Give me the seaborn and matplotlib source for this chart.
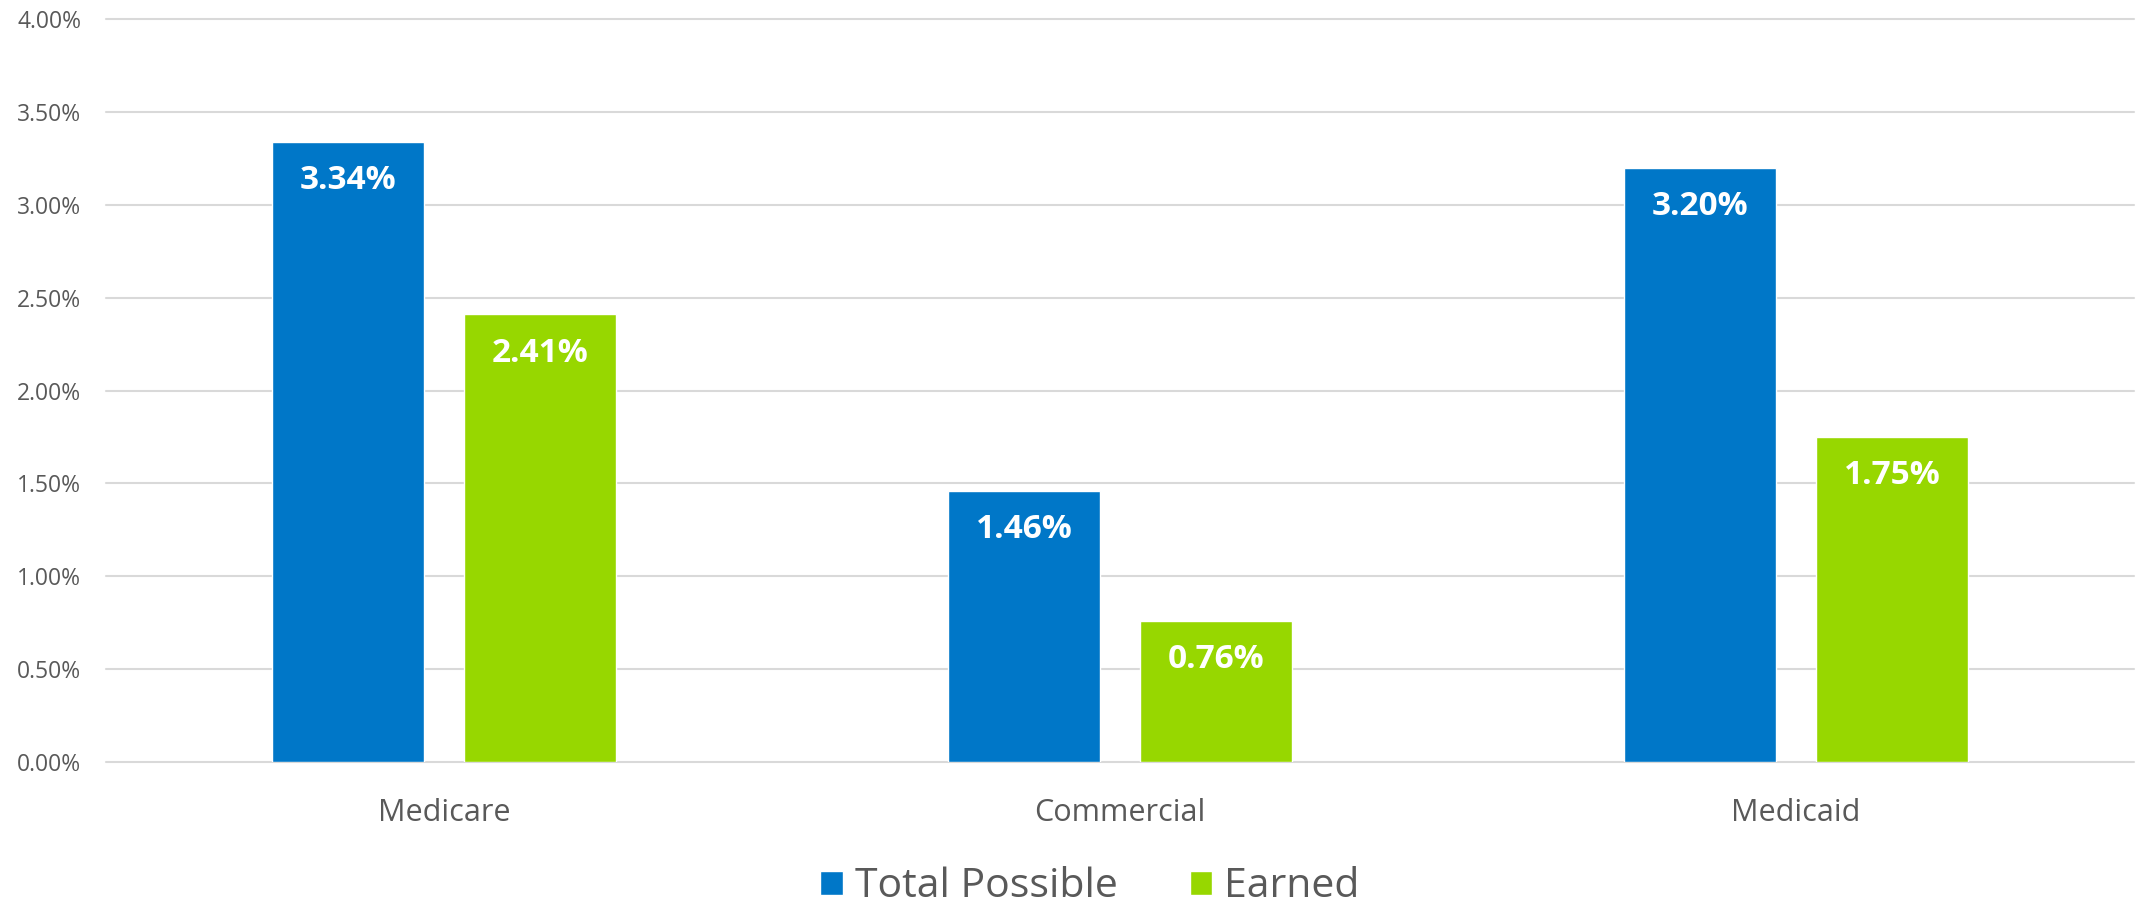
import matplotlib
matplotlib.use("Agg")
import matplotlib.pyplot as plt
import seaborn as sns
import pandas as pd

# Chart data
categories = ["Medicare", "Commercial", "Medicaid"]
total_possible = [3.34, 1.46, 3.20]
earned = [2.41, 0.76, 1.75]
series_names = ["Total Possible", "Earned"]
y_ticks = [0.0, 0.5, 1.0, 1.5, 2.0, 2.5, 3.0, 3.5, 4.0]

BLUE = "#0077C8"
GREEN = "#97D700"
TEXT = "#595959"
GRID = "#D9D9D9"

sns.set_theme(style="white")
plt.rcParams["font.family"] = ["Open Sans", "DejaVu Sans"]

df = pd.DataFrame({
    "category": categories * 2,
    "series": [series_names[0]] * len(categories) + [series_names[1]] * len(categories),
    "value": total_possible + earned,
})

fig = plt.figure(figsize=(21.36, 9.08), dpi=100)
ax = fig.add_axes([106 / 2136, 146 / 908, 2028 / 2136, 743 / 908])

sns.barplot(
    data=df, x="category", y="value", hue="series",
    order=categories, hue_order=series_names,
    palette=[BLUE, GREEN], width=0.568, gap=0.213,
    saturation=1, errorbar=None, ax=ax,
)

ax.set_ylim(0, 4.0)
ax.set_yticks(y_ticks)
ax.set_yticklabels([f"{t:.2f}%" for t in y_ticks])
ax.yaxis.grid(True, color=GRID, linewidth=1.5)
ax.set_axisbelow(True)
for s in ax.spines.values():
    s.set_visible(False)
ax.set_xlabel("")
ax.set_ylabel("")
ax.tick_params(axis="y", length=0, pad=18, labelsize=16.5, labelcolor=TEXT)
ax.tick_params(axis="x", length=0, pad=26, labelsize=22, labelcolor=TEXT)
for gl in ax.get_ygridlines():
    gl.set_clip_on(False)

# Value labels inside the top of each bar
for container, vals in zip(ax.containers, [total_possible, earned]):
    for patch, v in zip(container.patches, vals):
        ax.annotate(
            f"{v:.2f}%",
            xy=(patch.get_x() + patch.get_width() / 2, v),
            xytext=(0, -28), textcoords="offset points",
            ha="center", va="center", color="white",
            fontsize=24, fontweight="bold",
        )

handles, labels = ax.get_legend_handles_labels()
ax.get_legend().remove()
fig.legend(
    handles, labels, loc="center", bbox_to_anchor=(0.5103, 0.023),
    ncol=2, frameon=False, fontsize=29.5, labelcolor=TEXT,
    handlelength=0.55, handleheight=0.55, handletextpad=0.3,
    columnspacing=1.75, borderpad=0.0,
)

fig.savefig("out.png", dpi=100)
